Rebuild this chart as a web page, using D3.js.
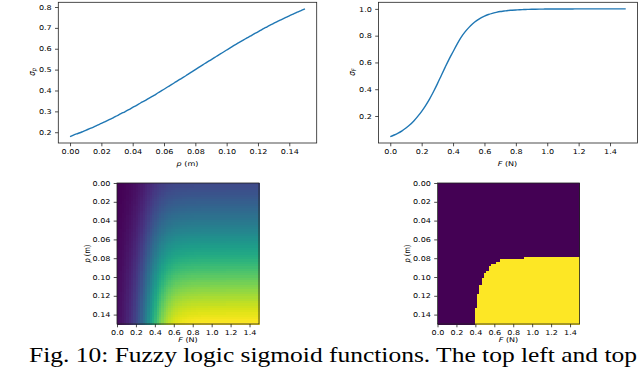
<!DOCTYPE html>
<html><head><meta charset="utf-8">
<script src="https://cdn.jsdelivr.net/npm/d3@7"></script>
<style>
body{margin:0;background:#fff}
svg{display:block;background:#fff}
</style>
</head><body>
<svg id="chart" width="640" height="377"></svg>
<script>
// ---------- data ----------
const pValues = [0,0.0025,0.005,0.0075,0.01,0.0125,0.015,0.0175,0.02,0.0225,
                 0.025,0.0275,0.03,0.0325,0.035,0.0375,0.04,0.0425,0.045,0.0475,
                 0.05,0.0525,0.055,0.0575,0.06,0.0625,0.065,0.0675,0.07,0.0725,
                 0.075,0.0775,0.08,0.0825,0.085,0.0875,0.09,0.0925,0.095,0.0975,
                 0.1,0.1025,0.105,0.1075,0.11,0.1125,0.115,0.1175,0.12,0.1225,
                 0.125,0.1275,0.13,0.1325,0.135,0.1375,0.14,0.1425,0.145,0.1475,0.15];
const sigmaP  = [0.179,0.187,0.194,0.201,0.209,0.217,0.225,0.234,0.242,0.251,
                 0.260,0.269,0.279,0.289,0.298,0.308,0.319,0.329,0.340,0.350,
                 0.361,0.372,0.383,0.395,0.406,0.418,0.429,0.441,0.453,0.464,
                 0.476,0.488,0.500,0.512,0.524,0.536,0.547,0.559,0.571,0.582,
                 0.594,0.605,0.617,0.628,0.639,0.650,0.660,0.671,0.681,0.692,
                 0.702,0.712,0.721,0.731,0.740,0.749,0.758,0.766,0.775,0.783,0.791];
const FValues = [0,0.025,0.05,0.075,0.1,0.125,0.15,0.175,0.2,0.225,
                 0.25,0.275,0.3,0.325,0.35,0.375,0.4,0.425,0.45,0.475,
                 0.5,0.525,0.55,0.575,0.6,0.625,0.65,0.675,0.7,0.725,
                 0.75,0.775,0.8,0.825,0.85,0.875,0.9,0.925,0.95,0.975,
                 1.0,1.025,1.05,1.075,1.1,1.125,1.15,1.175,1.2,1.225,
                 1.25,1.275,1.3,1.325,1.35,1.375,1.4,1.425,1.45,1.475,1.5];
const sigmaF  = [0.046,0.058,0.072,0.089,0.110,0.134,0.163,0.197,0.235,0.278,
                 0.326,0.381,0.440,0.503,0.565,0.625,0.680,0.735,0.785,0.826,
                 0.860,0.889,0.912,0.931,0.946,0.958,0.967,0.974,0.980,0.984,
                 0.988,0.990,0.992,0.994,0.995,0.996,0.997,0.9975,0.998,0.9985,
                 0.999,0.999,0.999,0.999,0.999,0.999,0.999,1.000,1.000,1.000,
                 1.000,1.000,1.000,1.000,1.000,1.000,1.000,1.000,1.000,1.000,1.000];
const activationThreshold = 0.4985;

const pTicks   = [0,0.02,0.04,0.06,0.08,0.10,0.12,0.14];
const FTicks   = [0,0.2,0.4,0.6,0.8,1.0,1.2,1.4];
const sPTicks  = [0.2,0.3,0.4,0.5,0.6,0.7,0.8];
const sFTicks  = [0.2,0.4,0.6,0.8,1.0];
const captionText = "Fig. 10: Fuzzy logic sigmoid functions. The top left and top";

// ---------- helpers ----------
const svg = d3.select("#chart");
const SX = 1.22;          // horizontal stretch of the embedded figure
const FS = 6.6;           // figure font size
const TICK = 3.3, PAD = 3.3;
const INK = "#222";
const FIGFONT = "'DejaVu Sans', sans-serif";

function styleAxis(g, orient){
  g.select(".domain").remove();
  g.selectAll(".tick line").attr("stroke", INK).attr("stroke-width", 0.8);
  const t = g.selectAll(".tick text").attr("font-size", FS)
    .style("font-family", FIGFONT).attr("fill", "#000");
  if (orient === "bottom") {
    t.attr("transform", `scale(${SX},1)`);
  } else {
    t.attr("x", -(TICK + PAD) / SX).attr("transform", `scale(${SX},1)`);
  }
}
function frame(x0, x1, y0, y1){
  svg.append("rect").attr("x", x0).attr("y", y0).attr("width", x1 - x0).attr("height", y1 - y0)
    .attr("fill", "none").attr("stroke", INK).attr("stroke-width", 0.8);
}
function xLabel(cx, y, italic, rest){
  const t = svg.append("text").attr("transform", `translate(${cx},${y}) scale(${SX},1)`)
    .attr("text-anchor", "middle").attr("font-size", FS).style("font-family", FIGFONT);
  t.append("tspan").attr("font-style", "italic").text(italic);
  t.append("tspan").text(rest);
}
function yLabelText(cx, cy, build){
  const t = svg.append("text").attr("transform", `translate(${cx},${cy}) rotate(-90) scale(1,${SX})`)
    .attr("text-anchor", "middle").attr("font-size", FS).style("font-family", FIGFONT);
  build(t);
}

// ---------- top left: sigma_p ----------
{
  const x0 = 58.3, x1 = 316.7, y0 = 2.3, y1 = 143;
  const xs = d3.scaleLinear().domain([-0.0075, 0.1575]).range([x0, x1]);
  const ys = d3.scaleLinear().domain([0.1484, 0.8216]).range([y1, y0 + 0.2]);
  const line = d3.line().x((d, i) => xs(pValues[i])).y(d => ys(d)).curve(d3.curveMonotoneX);
  svg.append("path").datum(sigmaP).attr("d", line).attr("fill", "none")
    .attr("stroke", "#1f77b4").attr("stroke-width", 1.4);
  frame(x0, x1, y0, y1);
  svg.append("g").attr("transform", `translate(0,${y1})`)
    .call(d3.axisBottom(xs).tickValues(pTicks).tickFormat(d3.format(".2f")).tickSize(TICK).tickPadding(3.0).tickSizeOuter(0))
    .call(g => styleAxis(g, "bottom"));
  svg.append("g").attr("transform", `translate(${x0},0)`)
    .call(d3.axisLeft(ys).tickValues(sPTicks).tickFormat(d3.format(".1f")).tickSize(TICK).tickPadding(PAD).tickSizeOuter(0))
    .call(g => styleAxis(g, "left"));
  xLabel(187.5, 165.5, "p", " (m)");
  yLabelText(34.5, 72, t => {
    t.append("tspan").attr("font-style", "italic").attr("font-size", 7.2).text("σ");
    t.append("tspan").attr("font-style", "italic").attr("font-size", 5).attr("dy", 1.6).text("p");
  });
}

// ---------- top right: sigma_F ----------
{
  const x0 = 378.5, x1 = 637.5, y0 = 2.3, y1 = 143;
  const xs = d3.scaleLinear().domain([-0.075, 1.575]).range([x0, x1]);
  const ys = d3.scaleLinear().domain([-0.0017, 1.0477]).range([y1, y0 + 0.2]);
  const line = d3.line().x((d, i) => xs(FValues[i])).y(d => ys(d)).curve(d3.curveMonotoneX);
  svg.append("path").datum(sigmaF).attr("d", line).attr("fill", "none")
    .attr("stroke", "#1f77b4").attr("stroke-width", 1.4);
  frame(x0, x1, y0, y1);
  svg.append("g").attr("transform", `translate(0,${y1})`)
    .call(d3.axisBottom(xs).tickValues(FTicks).tickFormat(d3.format(".1f")).tickSize(TICK).tickPadding(3.0).tickSizeOuter(0))
    .call(g => styleAxis(g, "bottom"));
  svg.append("g").attr("transform", `translate(${x0},0)`)
    .call(d3.axisLeft(ys).tickValues(sFTicks).tickFormat(d3.format(".1f")).tickSize(TICK).tickPadding(PAD).tickSizeOuter(0))
    .call(g => styleAxis(g, "left"));
  xLabel(507.5, 165.5, "F", " (N)");
  yLabelText(354.5, 72, t => {
    t.append("tspan").attr("font-style", "italic").attr("font-size", 7.2).text("σ");
    t.append("tspan").attr("font-style", "italic").attr("font-size", 5).attr("dy", 1.6).text("F");
  });
}

// ---------- heatmaps ----------
const cells = [];
pValues.forEach((p, i) => FValues.forEach((F, j) => {
  cells.push({i, j, v: sigmaP[i] * sigmaF[j]});
}));
const vExt = d3.extent(cells, d => d.v);

function heatmap(x0, x1, y0, y1, valueOf, domain, labelY){
  const xb = d3.scaleBand().domain(d3.range(FValues.length)).range([x0, x1]);
  const yb = d3.scaleBand().domain(d3.range(pValues.length)).range([y0, y1]);
  const color = d3.scaleSequential(d3.interpolateViridis).domain(domain);
  svg.append("g").attr("shape-rendering", "crispEdges").selectAll("rect").data(cells).join("rect")
    .attr("x", d => xb(d.j)).attr("y", d => yb(d.i))
    .attr("width", xb.bandwidth() + 0.7).attr("height", yb.bandwidth() + 0.7)
    .attr("fill", d => color(valueOf(d)));
  frame(x0, x1, y0, y1);
  const xs = d3.scaleLinear().domain([0, 1.5]).range([x0, x1]);
  const ys = d3.scaleLinear().domain([0, 0.15]).range([y0, y1]);
  svg.append("g").attr("transform", `translate(0,${y1})`)
    .call(d3.axisBottom(xs).tickValues(FTicks).tickFormat(d3.format(".1f")).tickSize(TICK).tickPadding(3.0).tickSizeOuter(0))
    .call(g => styleAxis(g, "bottom"));
  svg.append("g").attr("transform", `translate(${x0},0)`)
    .call(d3.axisLeft(ys).tickValues(pTicks).tickFormat(d3.format(".2f")).tickSize(TICK).tickPadding(PAD).tickSizeOuter(0))
    .call(g => styleAxis(g, "left"));
  xLabel((x0 + x1) / 2, 342, "F", " (N)");
  yLabelText(labelY, (y0 + y1) / 2, t => {
    t.append("tspan").attr("font-style", "italic").text("p");
    t.append("tspan").text(" (m)");
  });
}
heatmap(117, 259, 183, 324, d => d.v, vExt, 89.5);
heatmap(437.5, 579.5, 183, 324, d => (d.v > activationThreshold ? 1 : 0), [0, 1], 409.5);

// ---------- caption ----------
svg.append("text").attr("x", 29).attr("y", 361.5)
  .style("font-family", "'Liberation Serif', 'Times New Roman', serif")
  .attr("font-size", 21.5).attr("fill", "#000")
  .attr("textLength", 608).attr("lengthAdjust", "spacingAndGlyphs")
  .text(captionText);
</script>
</body></html>
